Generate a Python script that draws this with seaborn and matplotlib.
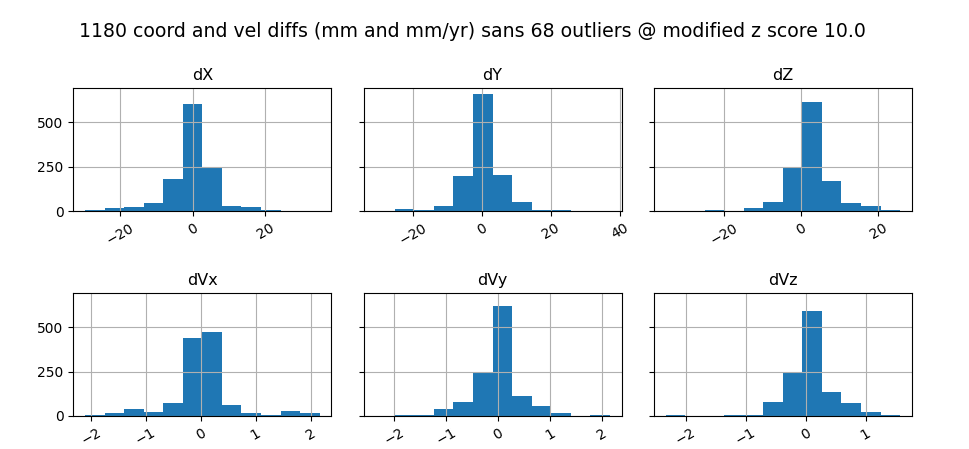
import numpy as np
import pandas as pd
import matplotlib
matplotlib.use("Agg")
import matplotlib.pyplot as plt
import seaborn as sns

# ---- data ----
panels = ["dX", "dY", "dZ", "dVx", "dVy", "dVz"]
# data range (min, max) for each panel; 12 equal-width bins between them
range_dX = (-29.7, 34.9)
range_dY = (-31.1, 37.1)
range_dZ = (-35.1, 25.6)
range_dVx = (-2.108, 2.164)
range_dVy = (-2.369, 2.156)
range_dVz = (-2.333, 1.572)

counts_dX = [6, 16, 22, 48, 178, 605, 249, 28, 22, 8, 1, 1]
counts_dY = [1, 14, 7, 28, 197, 657, 202, 54, 7, 6, 0, 1]
counts_dZ = [1, 0, 8, 2, 17, 49, 249, 612, 170, 43, 28, 9]
counts_dVx = [5, 19, 38, 24, 71, 438, 470, 64, 18, 4, 26, 19]
counts_dVy = [1, 3, 3, 38, 77, 246, 618, 115, 56, 19, 1, 5]
counts_dVz = [3, 2, 2, 5, 6, 77, 246, 592, 133, 71, 21, 4]

ranges = [range_dX, range_dY, range_dZ, range_dVx, range_dVy, range_dVz]
counts = [counts_dX, counts_dY, counts_dZ, counts_dVx, counts_dVy, counts_dVz]

title = "1180 coord and vel diffs (mm and mm/yr) sans 68 outliers @ modified z score 10.0"

plt.rcParams["font.family"] = ["DejaVu Sans"]
plt.rcParams["xtick.labelsize"] = 10
plt.rcParams["ytick.labelsize"] = 10

fig, axes = plt.subplots(2, 3, figsize=(9.7, 4.49), dpi=100, sharey=True)
fig.subplots_adjust(left=0.0756, right=0.94, top=0.803, bottom=0.0735,
                    wspace=0.125, hspace=0.67)

for ax, name, rng, cnt in zip(axes.flat, panels, ranges, counts):
    edges = [float(e) for e in np.linspace(rng[0], rng[1], len(cnt) + 1)]
    centers = [(edges[i] + edges[i + 1]) / 2 for i in range(len(cnt))]
    df = pd.DataFrame({"x": centers, "w": [float(c) for c in cnt]})
    sns.histplot(data=df, x="x", weights="w", bins=edges, ax=ax,
                 color="#1f77b4", alpha=1.0, linewidth=0, edgecolor="none")
    span = rng[1] - rng[0]
    ax.set_xlim(rng[0] - 0.05 * span, rng[1] + 0.05 * span)
    ax.set_title(name, fontsize=11.5)
    ax.set_xlabel("")
    ax.set_ylabel("")
    ax.grid(True, color="#b0b0b0", linewidth=0.8)
    for lab in ax.get_xticklabels():
        lab.set_rotation(30)

all_max = max(max(c) for c in counts)
axes[0, 0].set_ylim(0, all_max * 1.05)
axes[0, 0].set_yticks([0, 250, 500])

fig.suptitle(title, x=0.487, y=0.952, fontsize=13.6)
fig.savefig("out.png", dpi=100)
